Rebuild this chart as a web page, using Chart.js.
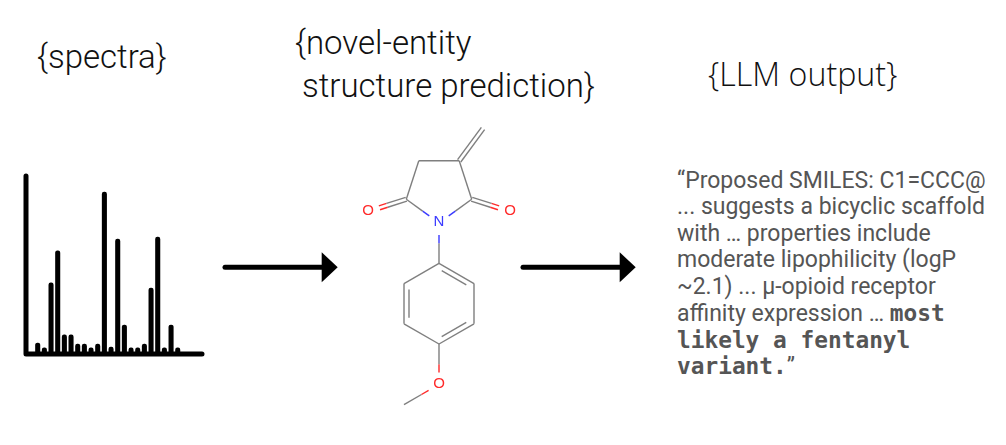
<!DOCTYPE html>
<html><head><meta charset="utf-8">
<script src="https://cdn.jsdelivr.net/npm/chart.js@4.4.1/dist/chart.umd.min.js"></script>
<style>
html,body{margin:0;padding:0;background:#fff;width:1006px;height:445px;overflow:hidden;}
#stage{position:relative;width:1006px;height:445px;}
canvas{position:absolute;}
.title{position:absolute;font-family:Roboto;font-weight:300;color:#111;white-space:nowrap;line-height:1;font-size:33px;}
.llmTitle{position:absolute;font-family:"Open Sans";font-weight:300;color:#111;white-space:nowrap;line-height:1;font-size:32.2px;}
.llm{position:absolute;left:677px;top:167.9px;font-family:Roboto;font-size:23px;color:#555;}
.llm div{height:26.5px;line-height:26.5px;white-space:nowrap;}
.mono{font-family:"DejaVu Sans Mono";font-weight:bold;font-size:22.8px;line-height:26.5px;}
</style></head>
<body>
<div id="stage">
  <div class="title" style="left:37px;top:39.7px;">{spectra}</div>
  <div class="title" style="left:295px;top:25.5px;">{novel-entity</div>
  <div class="title" style="left:302px;top:68.9px;">structure prediction}</div>
  <div class="llmTitle" style="left:708px;top:58.1px;">{LLM output}</div>
  <div class="llm">
    <div>“Proposed SMILES: C1=CCC@</div>
    <div>... suggests a bicyclic scaffold</div>
    <div>with … properties include</div>
    <div>moderate lipophilicity (logP</div>
    <div>~2.1) ... μ-opioid receptor</div>
    <div>affinity expression … <span class="mono">most</span></div>
    <div><span class="mono">likely a fentanyl</span></div>
    <div><span class="mono">variant.</span>”</div>
  </div>
  <canvas id="spec" width="230" height="230" style="left:0;top:150px;width:230px;height:230px;"></canvas>
  <canvas id="mol" width="1006" height="445" style="left:0;top:0;width:1006px;height:445px;"></canvas>
</div>
<script>
// ---- spectrum data ----
const peakIndex = [0,1,2,3,4,5,6,7,8,9,10,11,12,13,14,15,16,17,18,19,20,21];
const peakIntensity = [6.2,3.4,40,58,10.7,10.7,5.6,5.6,3.4,5.6,91,3.9,64.6,16.3,3.4,3.4,5.6,37,65.7,3.4,16.3,3.4];

// ---- molecule depiction data (2D depiction coordinates) ----
const atomElement = ['C','C','C','C','C','N','O','O','C','C','C','C','C','C','O','C'];
const atomX = [483,459.2,418.8,406.3,471.7,439,368,510,439,474,474,439,404,404,439,404];
const atomY = [128.5,160.8,160.8,199.2,199.2,223,211.5,211.5,263.4,283.6,323.8,344,323.8,283.6,384.4,404.6];
const bondFrom = [1,1,2,3,5,4,3,4,5,8,9,10,11,12,13,11,14];
const bondTo   = [0,2,3,5,4,1,6,7,8,9,10,11,12,13,8,14,15];
const bondType = ['d','s','s','s','s','s','d','d','s','r','s','r','s','r','s','s','s'];
const ringCenter = [439,303.7];
const elementColor = {C:'#7f7f7f', N:'#3a3aff', O:'#ff2a2a'};

// ---- arrows ----
const arrowStartX = [225, 523];
const arrowTipX = [337.7, 635.7];
const arrowY = [267.3, 267.3];

// spectrum chart
const axisPlugin = {
  id:'axisL',
  afterDatasetsDraw(chart){
    const {ctx, chartArea:a} = chart;
    ctx.save();
    ctx.strokeStyle='#000'; ctx.lineWidth=5; ctx.lineCap='round'; ctx.lineJoin='round';
    ctx.beginPath(); ctx.moveTo(a.left,a.top); ctx.lineTo(a.left,a.bottom); ctx.lineTo(a.right,a.bottom); ctx.stroke();
    ctx.restore();
  }
};
new Chart(document.getElementById('spec'), {
  type:'bar',
  data:{datasets:[{
    data: peakIndex.map((x,i)=>({x:x, y:peakIntensity[i]})),
    backgroundColor:'#000', barThickness:4.4,
    borderRadius:{topLeft:2.2, topRight:2.2, bottomLeft:0, bottomRight:0}, borderSkipped:'start'
  }]},
  options:{responsive:false, animation:false, events:[],
    layout:{padding:{left:26,right:28,top:26,bottom:26}},
    plugins:{legend:{display:false}, tooltip:{enabled:false}},
    scales:{x:{type:'linear', min:-1.755, max:24.64, offset:false, grid:{offset:false}, display:false},
            y:{min:0, max:100, display:false}}},
  plugins:[axisPlugin]
});

// molecule + arrows chart
const datasets = [];
const SHORT = 12;
function seg(x1,y1,x2,y2,color){
  datasets.push({data:[{x:x1,y:y1},{x:x2,y:y2}], showLine:true, pointRadius:0,
    borderColor:color, borderWidth:1.4, borderCapStyle:'butt', fill:false});
}
function line(ax,ay,bx,by,ca,cb,sa,sb,mx,my){
  const dx=bx-ax, dy=by-ay, L=Math.hypot(dx,dy), ux=dx/L, uy=dy/L;
  const x1=ax+ux*sa, y1=ay+uy*sa, x2=bx-ux*sb, y2=by-uy*sb;
  if(ca===cb){ seg(x1,y1,x2,y2,ca); return; }
  seg(x1,y1,mx,my,ca); seg(mx,my,x2,y2,cb);
}
bondFrom.forEach((f,i)=>{
  const t=bondTo[i];
  const ax=atomX[f], ay=atomY[f], bx=atomX[t], by=atomY[t];
  const ca=elementColor[atomElement[f]], cb=elementColor[atomElement[t]];
  const sa=atomElement[f]==='C'?0:SHORT, sb=atomElement[t]==='C'?0:SHORT;
  const dx=bx-ax, dy=by-ay, L=Math.hypot(dx,dy), nx=-dy/L, ny=dx/L;
  const mx=(ax+bx)/2, my=(ay+by)/2;
  if(bondType[i]==='s'){
    line(ax,ay,bx,by,ca,cb,sa,sb,mx,my);
  } else if(bondType[i]==='d'){
    const o=2;
    line(ax+nx*o,ay+ny*o,bx+nx*o,by+ny*o,ca,cb,sa,sb,mx+nx*o,my+ny*o);
    line(ax-nx*o,ay-ny*o,bx-nx*o,by-ny*o,ca,cb,sa,sb,mx-nx*o,my-ny*o);
  } else {
    line(ax,ay,bx,by,ca,cb,sa,sb,mx,my);
    let s = ((ringCenter[0]-mx)*nx + (ringCenter[1]-my)*ny) > 0 ? 1 : -1;
    const o=5*s;
    line(ax+nx*o,ay+ny*o,bx+nx*o,by+ny*o,ca,cb,6,6,mx+nx*o,my+ny*o);
  }
});
arrowStartX.forEach((x,i)=>{
  datasets.push({data:[{x:x,y:arrowY[i]},{x:arrowTipX[i]-16,y:arrowY[i]}], showLine:true, pointRadius:0,
    borderColor:'#000', borderWidth:5, borderCapStyle:'round', fill:false});
});
const labelPlugin = {
  id:'atomLabels',
  afterDatasetsDraw(chart){
    const {ctx, scales:{x,y}} = chart;
    ctx.save();
    ctx.font='15px "Liberation Sans"'; ctx.textAlign='center'; ctx.textBaseline='middle';
    atomElement.forEach((e,i)=>{
      if(e==='C') return;
      ctx.fillStyle=elementColor[e];
      ctx.fillText(e, x.getPixelForValue(atomX[i]), y.getPixelForValue(atomY[i])-1);
    });
    ctx.fillStyle='#000';
    arrowTipX.forEach((tx,i)=>{
      const px=x.getPixelForValue(tx), py=y.getPixelForValue(arrowY[i]);
      const bx=x.getPixelForValue(tx-16);
      const top=y.getPixelForValue(arrowY[i]-15), bot=y.getPixelForValue(arrowY[i]+15);
      ctx.beginPath(); ctx.moveTo(bx,top); ctx.lineTo(px,py); ctx.lineTo(bx,bot); ctx.closePath(); ctx.fill();
    });
    ctx.restore();
  }
};
new Chart(document.getElementById('mol'), {
  type:'scatter',
  data:{datasets},
  options:{responsive:false, animation:false, events:[],
    layout:{padding:0},
    plugins:{legend:{display:false}, tooltip:{enabled:false}},
    scales:{x:{type:'linear',min:0,max:1006,display:false},
            y:{type:'linear',min:0,max:445,reverse:true,display:false}}},
  plugins:[labelPlugin]
});
</script>
</body></html>
